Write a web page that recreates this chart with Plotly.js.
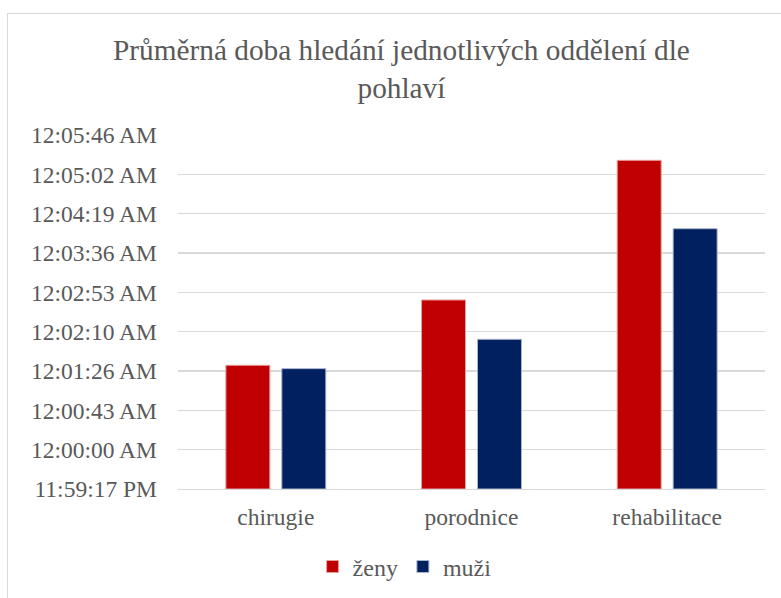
<!DOCTYPE html>
<html>
<head>
<meta charset="utf-8">
<script src="https://cdn.plot.ly/plotly-3.0.1.min.js"></script>
<style>
  html, body { margin: 0; padding: 0; background: #ffffff; }
  #frame { position: absolute; left: 7px; top: 13px; width: 790px; height: 600px; border: 1px solid #d9d9d9; box-sizing: border-box; }
  #chart { position: absolute; left: 0; top: 0; width: 781px; height: 598px; }
</style>
</head>
<body>
<div id="frame"></div>
<div id="chart"></div>
<script>
// Data: average search time in seconds after 12:00:00 AM
const categories = ["chirugie", "porodnice", "rehabilitace"];
const zenySeconds = [92.7, 164.4, 317.8];
const muziSeconds = [89.0, 121.2, 242.7];
const seriesNames = ["ženy", "muži"];

// Y axis ticks (seconds) and their labels
const tickSeconds = [-43.2, 0, 43.2, 86.4, 129.6, 172.8, 216, 259.2, 302.4, 345.6];
const tickLabels = ["11:59:17 PM", "12:00:00 AM", "12:00:43 AM", "12:01:26 AM", "12:02:10 AM",
                    "12:02:53 AM", "12:03:36 AM", "12:04:19 AM", "12:05:02 AM", "12:05:46 AM"];

const axisMin = tickSeconds[0];
const axisMax = tickSeconds[tickSeconds.length - 1];

const font = "'Liberation Serif', 'Times New Roman', serif";
const textColor = "#595959";

function barTrace(name, values, color, edge) {
  return {
    type: "bar",
    name: name,
    x: categories,
    y: values.map(v => v - axisMin),
    base: axisMin,
    marker: { color: color, line: { color: edge, width: 1 } },
    hoverinfo: "skip"
  };
}

const data = [
  barTrace(seriesNames[0], zenySeconds, "#c00000", "#e8a0a0"),
  barTrace(seriesNames[1], muziSeconds, "#002060", "#a8b4cc")
];

const layout = {
  width: 781,
  height: 598,
  margin: { l: 178, r: 16, t: 135, b: 109, autoexpand: false },
  paper_bgcolor: "rgba(0,0,0,0)",
  plot_bgcolor: "rgba(0,0,0,0)",
  font: { family: font, color: textColor, size: 23.5 },
  title: {
    text: "Průměrná doba hledání jednotlivých oddělení dle<br>pohlaví",
    font: { family: font, size: 29.3, color: textColor },
    x: 0.514, xanchor: "center",
    y: 0.9, yanchor: "middle", yref: "container"
  },
  barmode: "group",
  bargap: 0.428,
  bargroupgap: 0.214,
  xaxis: {
    type: "category",
    showgrid: false,
    showline: true,
    linecolor: "#d9d9d9",
    linewidth: 1.3,
    ticks: "",
    ticklabelstandoff: 6,
    tickfont: { family: font, size: 23.5, color: textColor },
    fixedrange: true
  },
  yaxis: {
    range: [axisMin, axisMax],
    tickmode: "array",
    tickvals: tickSeconds,
    ticktext: tickLabels,
    showgrid: true,
    gridcolor: "#d9d9d9",
    gridwidth: 1.3,
    zeroline: false,
    showline: false,
    ticks: "",
    ticklabelstandoff: 20,
    tickfont: { family: font, size: 23.5, color: textColor },
    fixedrange: true
  },
  showlegend: true,
  legend: {
    orientation: "h",
    x: 0.386, xanchor: "center", xref: "paper",
    y: -0.22, yanchor: "middle",
    font: { family: font, size: 24, color: textColor },
    itemwidth: 30,
    tracegroupgap: 0,
    bgcolor: "rgba(0,0,0,0)"
  }
};

Plotly.newPlot("chart", data, layout, { displayModeBar: false, staticPlot: true });
</script>
</body>
</html>
